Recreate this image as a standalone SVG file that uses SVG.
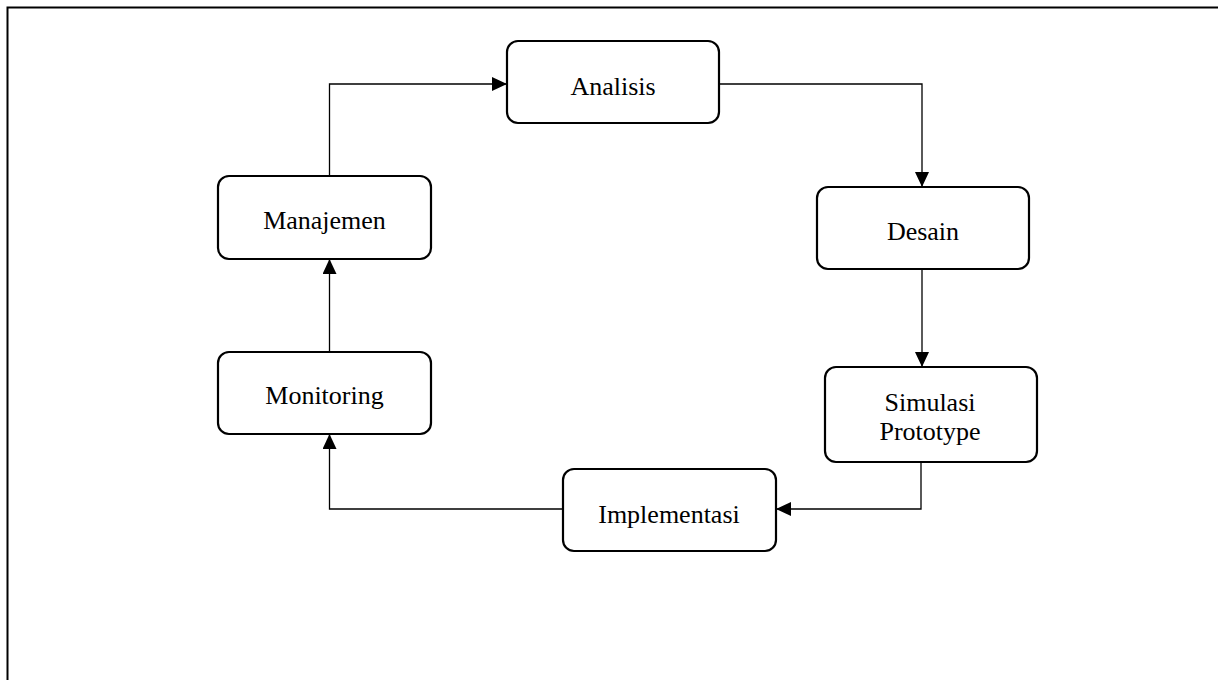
<svg xmlns="http://www.w3.org/2000/svg" width="1218" height="680" viewBox="0 0 1218 680">
<style>
.node rect{fill:#fff;stroke:#000;stroke-width:2.2}
.node text{font-family:"Liberation Serif","Times New Roman",serif;font-size:26px;fill:#000;text-anchor:middle}
.conn path{fill:none;stroke:#000;stroke-width:1.3}
</style>
<defs>
<marker id="ah" markerUnits="userSpaceOnUse" markerWidth="16" markerHeight="16" refX="15" refY="7" orient="auto">
<path d="M0,0 L15,7 L0,14 Z" fill="#000"/>
</marker>
</defs>
<rect width="1218" height="680" fill="#fff"/>
<path d="M7.5,680 L7.5,7.5 L1218,7.5" fill="none" stroke="#000" stroke-width="2"/>
<g class="conn">
<path d="M720,84 H922 V187" marker-end="url(#ah)"/>
<path d="M922,269 V367" marker-end="url(#ah)"/>
<path d="M921,462 V509 H776" marker-end="url(#ah)"/>
<path d="M563,509 H329.5 V434" marker-end="url(#ah)"/>
<path d="M329.5,352 V259" marker-end="url(#ah)"/>
<path d="M329.5,176 V84 H507" marker-end="url(#ah)"/>
</g>
<g id="analisis" class="node"><rect x="507" y="41" width="212" height="82" rx="11"/><text x="613" y="94.5">Analisis</text></g>
<g id="desain" class="node"><rect x="817" y="187" width="212" height="82" rx="11"/><text x="923" y="239.5">Desain</text></g>
<g id="simulasi" class="node"><rect x="825" y="367" width="212" height="95" rx="11"/><text x="930" y="411">Simulasi</text><text x="930" y="440">Prototype</text></g>
<g id="implementasi" class="node"><rect x="563" y="469" width="213" height="82" rx="11"/><text x="669" y="522.5">Implementasi</text></g>
<g id="monitoring" class="node"><rect x="218" y="352" width="213" height="82" rx="11"/><text x="324.5" y="403.5">Monitoring</text></g>
<g id="manajemen" class="node"><rect x="218" y="176" width="213" height="83" rx="11"/><text x="324.5" y="228.5">Manajemen</text></g>
</svg>
